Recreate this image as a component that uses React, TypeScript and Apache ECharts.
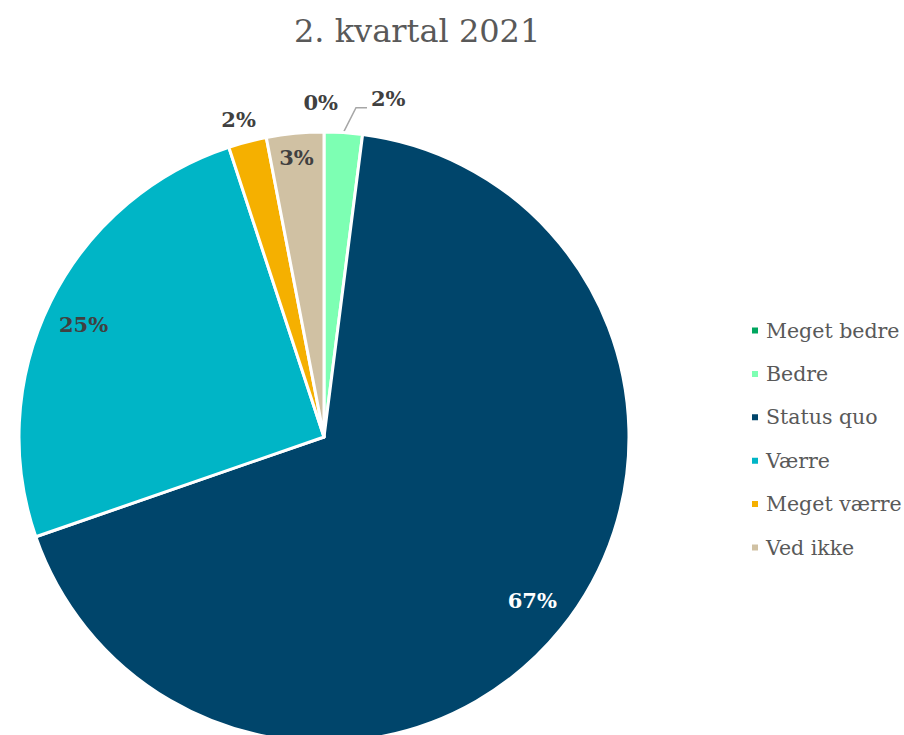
import React, { useEffect, useRef } from "react";
import * as echarts from "echarts";

const categories = ["Meget bedre", "Bedre", "Status quo", "Værre", "Meget værre", "Ved ikke"];
const values = [0, 2, 67, 25, 2, 3];
const colors = ["#00A65F", "#7DFFB3", "#00456B", "#00B5C6", "#F5B000", "#D0C1A3"];
const insideLabels = [false, false, true, true, false, true];
const insideLabelColors = ["#404040", "#404040", "#FFFFFF", "#404040", "#404040", "#404040"];
const lineShown = [false, true, false, false, false, false];
const titleText = "2. kvartal 2021";

// small nudges of label text relative to the library's own label placement
const outsideNudge: [number, number][] = [[27, -12], [11, -8], [0, 0], [0, 0], [26, -5], [0, 0]];
const insideNudge: [number, number][] = [[0, 0], [0, 0], [0, -6], [0, 7], [0, 0], [-2, -12]];

const FONT = "'DejaVu Serif', 'Liberation Serif', serif";

export default function App() {
  const ref = useRef<HTMLDivElement>(null);
  useEffect(() => {
    document.body.style.margin = "0";
    const chart = echarts.init(ref.current!, null, { renderer: "svg" });
    const R = 305;
    const center = [324, 437];
    const baseData = categories.map((name, i) => ({
      name,
      value: values[i],
      itemStyle: { color: colors[i] },
      label: { show: !insideLabels[i] },
      labelLine: lineShown[i]
        ? { show: true, length: 26, length2: 12 }
        : { show: false, length: 18, length2: 10 },
    }));
    const overlayData = categories.map((name, i) => ({
      name,
      value: values[i],
      itemStyle: { color: "transparent", borderWidth: 0 },
      label: { show: insideLabels[i], color: insideLabelColors[i] },
    }));
    chart.setOption({
      animation: false,
      title: {
        text: titleText,
        left: 289,
        top: 10,
        textStyle: { fontFamily: FONT, fontWeight: "normal", fontSize: 32, color: "#595959" },
      },
      legend: {
        orient: "vertical",
        left: 745,
        top: 315,
        icon: "rect",
        itemWidth: 8,
        itemHeight: 8,
        itemGap: 22.4,
        data: categories,
        textStyle: { fontFamily: FONT, fontSize: 20.5, color: "#595959", padding: [0, 0, 0, 2] },
      },
      series: [
        {
          type: "pie",
          center,
          radius: [0, R],
          startAngle: 90,
          clockwise: true,
          avoidLabelOverlap: false,
          stillShowZeroSum: true,
          legendHoverLink: false,
          itemStyle: { borderColor: "#FFFFFF", borderWidth: 3 },
          label: {
            position: "outside",
            formatter: "{c}%",
            fontFamily: FONT,
            fontWeight: "bold",
            fontSize: 21,
            color: "#404040",
            distanceToLabelLine: 3,
          },
          labelLine: {
            lineStyle: { color: "#A6A6A6", width: 1.5 },
          },
          labelLayout: (p: any) => {
            const n = outsideNudge[p.dataIndex];
            const out: any = { dx: n[0], dy: n[1] };
            if (lineShown[p.dataIndex] && p.labelLinePoints && p.labelRect) {
              const start = p.labelLinePoints[0];
              const left = p.labelRect.x + n[0];
              const mid = p.labelRect.y + p.labelRect.height / 2 + n[1];
              const end = [left - 4, mid + 9];
              const bend = [end[0] - 11, end[1]];
              out.labelLinePoints = [start, bend, end];
            }
            return out;
          },
          data: baseData,
        },
        {
          type: "pie",
          center,
          radius: [R * 0.74, R],
          startAngle: 90,
          clockwise: true,
          silent: true,
          avoidLabelOverlap: false,
          stillShowZeroSum: true,
          label: {
            position: "inside",
            formatter: "{c}%",
            fontFamily: FONT,
            fontWeight: "bold",
            fontSize: 21,
          },
          labelLine: { show: false },
          labelLayout: (p: any) => {
            const n = insideNudge[p.dataIndex];
            return { dx: n[0], dy: n[1] };
          },
          data: overlayData,
        },
      ],
    });
    return () => chart.dispose();
  }, []);
  return <div ref={ref} style={{ width: 904, height: 735 }} />;
}
